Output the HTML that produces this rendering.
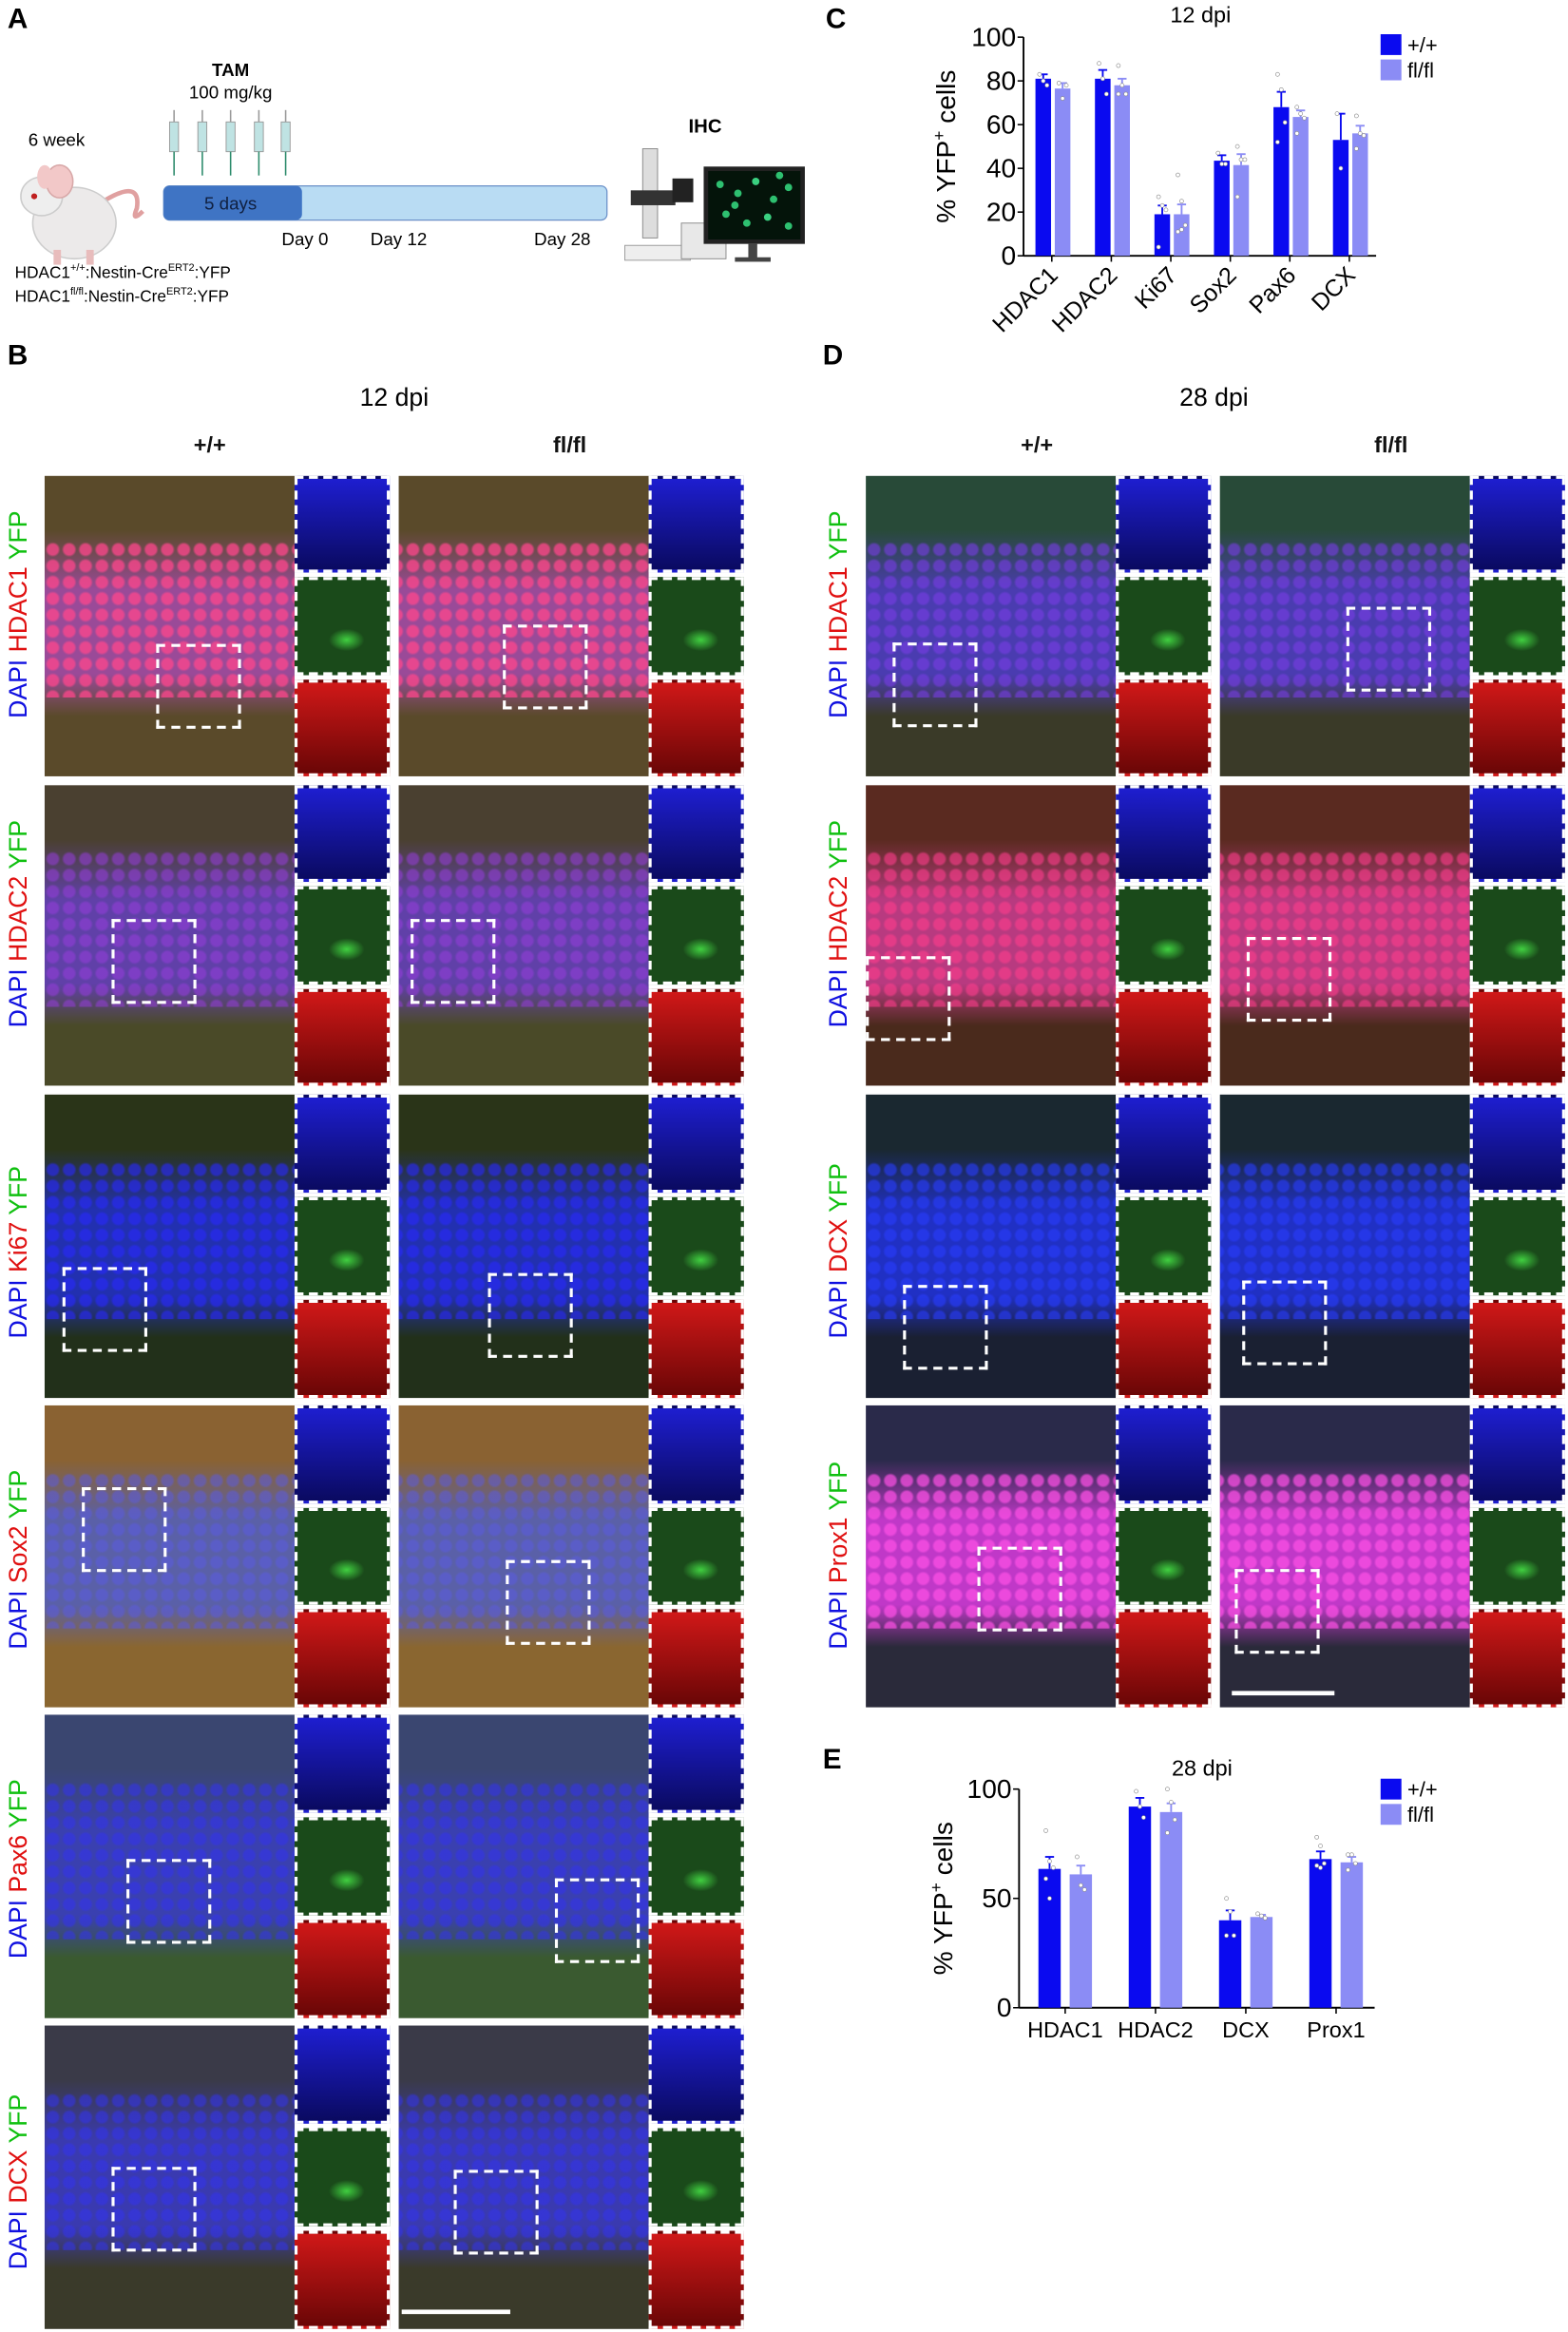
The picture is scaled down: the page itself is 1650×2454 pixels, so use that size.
<!DOCTYPE html>
<html><head><meta charset="utf-8">
<style>
html,body{margin:0;padding:0;background:#fff;}
body{width:1650px;height:2454px;overflow:hidden;position:relative;font-family:"Liberation Sans",sans-serif;}
#root{position:absolute;left:0;top:0;width:1054px;height:1568px;transform:scale(1.5655,1.565);transform-origin:0 0;}
.abs{position:absolute;}
.plabel{position:absolute;font-weight:bold;font-size:19px;color:#000;}
.hdr{position:absolute;font-size:17px;color:#000;transform:translateX(-50%);white-space:nowrap;}
.col{position:absolute;font-size:15px;font-weight:bold;color:#111;transform:translateX(-50%);}
.main{position:absolute;overflow:hidden;}
.tex{position:absolute;left:0;right:0;}
.ins{position:absolute;box-sizing:border-box;border:2px dashed #fff;}
.box{position:absolute;box-sizing:border-box;border:2px dashed #fff;}
.rowlab{position:absolute;font-size:17px;white-space:nowrap;transform:rotate(-90deg);transform-origin:0 0;}
</style></head>
<body>
<div id="root">

<div class="plabel" style="left:5px;top:3px">A</div>
<div class="plabel" style="left:5px;top:229px">B</div>
<div class="plabel" style="left:555px;top:3px">C</div>
<div class="plabel" style="left:553px;top:229px">D</div>
<div class="plabel" style="left:553px;top:1173px">E</div>

<!-- Panel A schematic -->
<svg class="abs" style="left:0;top:0" width="550" height="220">
  <text x="38" y="98" font-size="12" text-anchor="middle" font-family="Liberation Sans">6 week</text>
  <g>
    <path d="M70 135 Q95 120 92 140 Q88 150 96 142" stroke="#e0a0a0" stroke-width="3" fill="none"/>
    <ellipse cx="50" cy="150" rx="28" ry="24" fill="#eceaea" stroke="#ccc"/>
    <ellipse cx="28" cy="132" rx="14" ry="13" fill="#eeeeee" stroke="#ccc"/>
    <ellipse cx="40" cy="122" rx="9" ry="11" fill="#f2c8c8" stroke="#d8a8a8"/>
    <ellipse cx="30" cy="119" rx="5" ry="8" fill="#f2c8c8"/>
    <circle cx="23" cy="132" r="2" fill="#c02020"/>
    <rect x="36" y="168" width="5" height="10" fill="#e8bcbc"/>
    <rect x="58" y="168" width="5" height="10" fill="#e8bcbc"/>
  </g>
  <text x="155" y="51" font-size="12" font-weight="bold" text-anchor="middle" font-family="Liberation Sans">TAM</text>
  <text x="155" y="66" font-size="12" text-anchor="middle" font-family="Liberation Sans">100 mg/kg</text>
  <g>
    <g transform="translate(117,0)"><rect x="-3" y="82" width="6" height="20" fill="#bfe3e3" stroke="#999" stroke-width=".6"/><line x1="0" y1="74" x2="0" y2="82" stroke="#999"/><line x1="0" y1="102" x2="0" y2="118" stroke="#2a8a6a"/></g>
    <g transform="translate(136,0)"><rect x="-3" y="82" width="6" height="20" fill="#bfe3e3" stroke="#999" stroke-width=".6"/><line x1="0" y1="74" x2="0" y2="82" stroke="#999"/><line x1="0" y1="102" x2="0" y2="118" stroke="#2a8a6a"/></g>
    <g transform="translate(155,0)"><rect x="-3" y="82" width="6" height="20" fill="#bfe3e3" stroke="#999" stroke-width=".6"/><line x1="0" y1="74" x2="0" y2="82" stroke="#999"/><line x1="0" y1="102" x2="0" y2="118" stroke="#2a8a6a"/></g>
    <g transform="translate(174,0)"><rect x="-3" y="82" width="6" height="20" fill="#bfe3e3" stroke="#999" stroke-width=".6"/><line x1="0" y1="74" x2="0" y2="82" stroke="#999"/><line x1="0" y1="102" x2="0" y2="118" stroke="#2a8a6a"/></g>
    <g transform="translate(192,0)"><rect x="-3" y="82" width="6" height="20" fill="#bfe3e3" stroke="#999" stroke-width=".6"/><line x1="0" y1="74" x2="0" y2="82" stroke="#999"/><line x1="0" y1="102" x2="0" y2="118" stroke="#2a8a6a"/></g>
  </g>
  <rect x="110" y="125" width="298" height="23" rx="4" fill="#b9dcf3" stroke="#6a90c8" stroke-width="0.8"/>
  <rect x="110" y="125" width="93" height="23" rx="4" fill="#3f74c4"/>
  <text x="155" y="141" font-size="12" text-anchor="middle" fill="#102040" font-family="Liberation Sans">5 days</text>
  <text x="205" y="165" font-size="12" text-anchor="middle" font-family="Liberation Sans">Day 0</text>
  <text x="268" y="165" font-size="12" text-anchor="middle" font-family="Liberation Sans">Day 12</text>
  <text x="378" y="165" font-size="12" text-anchor="middle" font-family="Liberation Sans">Day 28</text>
  <text x="10" y="187" font-size="11" font-family="Liberation Sans">HDAC1<tspan font-size="7" dy="-5">+/+</tspan><tspan dy="5">:Nestin-Cre</tspan><tspan font-size="7" dy="-5">ERT2</tspan><tspan dy="5">:YFP</tspan></text>
  <text x="10" y="203" font-size="11" font-family="Liberation Sans">HDAC1<tspan font-size="7" dy="-5">fl/fl</tspan><tspan dy="5">:Nestin-Cre</tspan><tspan font-size="7" dy="-5">ERT2</tspan><tspan dy="5">:YFP</tspan></text>
  <text x="474" y="89" font-size="13" font-weight="bold" text-anchor="middle" font-family="Liberation Sans">IHC</text>
  <g>
    <rect x="432" y="100" width="10" height="60" fill="#ddd" stroke="#888" stroke-width=".6"/>
    <rect x="424" y="128" width="30" height="10" fill="#333"/>
    <rect x="420" y="165" width="44" height="10" fill="#eee" stroke="#999" stroke-width=".6"/>
    <rect x="452" y="120" width="14" height="16" fill="#222"/>
    <rect x="458" y="150" width="30" height="24" fill="#e8e8e8" stroke="#888" stroke-width=".6"/>
  </g>
  <g>
    <rect x="473" y="112" width="68" height="52" fill="#222"/>
    <rect x="476" y="115" width="62" height="46" fill="#04140a"/>
    <circle cx="484" cy="124" r="2.5" fill="#2ec070"/><circle cx="496" cy="130" r="2.5" fill="#2ec070"/><circle cx="508" cy="122" r="2.5" fill="#3ad080"/><circle cx="520" cy="134" r="2.5" fill="#2ec070"/><circle cx="530" cy="126" r="2.5" fill="#2ec070"/><circle cx="488" cy="144" r="2.5" fill="#2ec070"/><circle cx="502" cy="150" r="2.5" fill="#2ec070"/><circle cx="516" cy="146" r="2.5" fill="#3ad080"/><circle cx="530" cy="152" r="2.5" fill="#2ec070"/><circle cx="494" cy="138" r="2.5" fill="#2ec070"/><circle cx="524" cy="118" r="2.5" fill="#2ec070"/>
    <rect x="503" y="164" width="6" height="10" fill="#444"/><rect x="494" y="173" width="24" height="3" fill="#444"/>
  </g>
</svg>

<svg class="abs" id="chartC" style="left:600px;top:0" width="454" height="230"></svg>
<svg class="abs" id="chartE" style="left:600px;top:1170px" width="454" height="210"></svg>

<div class="hdr" style="left:265px;top:258px">12 dpi</div>
<div class="col" style="left:141px;top:291px">+/+</div>
<div class="col" style="left:383px;top:291px">fl/fl</div>
<div class="hdr" style="left:816px;top:258px">28 dpi</div>
<div class="col" style="left:697px;top:291px">+/+</div>
<div class="col" style="left:935px;top:291px">fl/fl</div>

<div id="micro"></div>

<div class="abs" style="left:270px;top:1553px;width:73px;height:3px;background:#fff"></div>
</div>

<script>
const NS='http://www.w3.org/2000/svg';
function mk(p,tag,attrs){const e=document.createElementNS(NS,tag);for(const k in attrs)e.setAttribute(k,attrs[k]);p.appendChild(e);return e;}

// ---- Chart C data ----
const catsC=['HDAC1','HDAC2','Ki67','Sox2','Pax6','DCX'];
const wtC=[81,81,19,43.5,68,53];
const koC=[76.5,78,19,41.5,63.5,56];
const wtErrC=[2,4,4,2.5,7,12];
const koErrC=[2.5,3,4.5,5,3,3.5];
const wtPtsC=[[83,80,78],[88,81,74],[27,23,21,4],[47,42,42],[83,76,61,52],[65,40]];
const koPtsC=[[79,72,78],[87,78,74,74],[37,25,14,11,12],[50,44,44,27],[68,65,63,56],[64,56,55,49]];
const ticksC=[0,20,40,60,80,100];
// ---- Chart E data ----
const catsE=['HDAC1','HDAC2','DCX','Prox1'];
const wtE=[63.5,92,40,68];
const koE=[61,89.5,41.5,66.5];
const wtErrE=[5.5,4,4.5,3.5];
const koErrE=[4,4,1,2.5];
const wtPtsE=[[81,67,64,59,50],[99,92,87],[50,44,33,33],[78,74,66,65,64]];
const koPtsE=[[69,56,54],[100,94,86,80],[43,42,41],[70,70,66,63]];
const ticksE=[0,50,100];

const WT='#0a0af0', KO='#8b8cf5';

function drawChart(svg,o){
  const y=v=>o.y0-(v/100)*(o.y0-o.y100);
  const x=i=>o.c0+i*o.step;
  let e=mk(svg,'line',{x1:o.ax,y1:o.y100,x2:o.ax,y2:o.y0,stroke:'#000','stroke-width':1.2});
  
  
  e=mk(svg,'line',{x1:o.ax,y1:o.y0,x2:o.xend,y2:o.y0,stroke:'#000','stroke-width':1.2});
  
  
  o.ticks.forEach(t=>{
    mk(svg,'line',{x1:o.ax-4,y1:y(t),x2:o.ax,y2:y(t),stroke:'#000'});
    const tx=mk(svg,'text',{x:o.ax-5,y:y(t)+6,'font-size':18,'text-anchor':'end','font-family':'Liberation Sans'});
    tx.textContent=t;
    
    
  });
  o.cats.forEach((c,i)=>{
    const cx=x(i);
    [[o.wt,o.wtErr,o.wtPts,WT,o.wOff,'bar-wt'],[o.ko,o.koErr,o.koPts,KO,o.kOff,'bar-ko']].forEach(([vals,errs,pts,col,off,nm])=>{
      const bx=cx+off;
      const r=mk(svg,'rect',{x:bx,y:y(vals[i]),width:o.bw,height:o.y0-y(vals[i]),fill:col});
      
      
      const mx=bx+o.bw/2;
      mk(svg,'line',{x1:mx,y1:y(vals[i]),x2:mx,y2:y(vals[i]+errs[i]),stroke:col,'stroke-width':1.2});
      mk(svg,'line',{x1:mx-3,y1:y(vals[i]+errs[i]),x2:mx+3,y2:y(vals[i]+errs[i]),stroke:col,'stroke-width':1.2});
      pts[i].forEach((p,k)=>{
        const d=mk(svg,'circle',{cx:mx+((k%3)-1)*2.5,cy:y(p),r:1.3,fill:'#fff',stroke:'#888','stroke-width':0.4});
        
        
      });
    });
    mk(svg,'line',{x1:cx,y1:o.y0,x2:cx,y2:o.y0+4,stroke:'#000'});
    let lt;
    if(o.rot){
      lt=mk(svg,'text',{x:cx+5,y:o.y0+14,'font-size':16,'text-anchor':'end','font-family':'Liberation Sans',transform:`rotate(-45 ${cx+5} ${o.y0+14})`});
    } else {
      lt=mk(svg,'text',{x:cx,y:o.y0+20,'font-size':15,'text-anchor':'middle','font-family':'Liberation Sans'});
    }
    lt.textContent=c;
    
    
  });
  const yt=mk(svg,'text',{x:0,y:0,'font-size':18,'text-anchor':'middle','font-family':'Liberation Sans',transform:`translate(${o.ytx} ${(o.y0+o.y100)/2}) rotate(-90)`});
  yt.innerHTML='% YFP<tspan font-size="11" dy="-7">+</tspan><tspan dy="7"> cells</tspan>';
  
  
  const tt=mk(svg,'text',{x:o.tx,y:o.ty,'font-size':15,'text-anchor':'middle','font-family':'Liberation Sans'});
  tt.textContent=o.title;
  
  
  [[WT,'+/+',o.ly],[KO,'fl/fl',o.ly+17]].forEach(([col,lab,ly])=>{
    const r=mk(svg,'rect',{x:o.lx,y:ly,width:14,height:14,fill:col});
    
    
    const t=mk(svg,'text',{x:o.lx+18,y:ly+12,'font-size':14,'font-family':'Liberation Sans'});
    t.textContent=lab;
    
    
  });
}
drawChart(document.getElementById('chartC'),{cats:catsC,wt:wtC,ko:koC,wtErr:wtErrC,koErr:koErrC,wtPts:wtPtsC,koPts:koPtsC,ticks:ticksC,
  ax:88,xend:325,y0:172,y100:25,c0:107,step:40,bw:10.5,wOff:-11,kOff:2,rot:true,ytx:42,title:'12 dpi',tx:207,ty:15,lx:328,ly:23});
drawChart(document.getElementById('chartE'),{cats:catsE,wt:wtE,ko:koE,wtErr:wtErrE,koErr:koErrE,wtPts:wtPtsE,koPts:koPtsE,ticks:ticksE,
  ax:85,xend:324,y0:180,y100:33,c0:116,step:60.7,bw:15,wOff:-18,kOff:3,rot:false,ytx:40,title:'28 dpi',tx:208,ty:24,lx:328,ly:26});

// ---- Micrographs (decorative images) ----
const micro=document.getElementById('micro');
const bRows=[
 {y:320,h:202,lab:'HDAC1',top:'#5a4a2a',mid:'#9a4a98',bot:'#5a4a2a',cell:'rgba(255,70,140,.75)',box:[[75,113],[70,100]]},
 {y:528,h:202,lab:'HDAC2',top:'#4a4030',mid:'#6040a8',bot:'#4a4a28',cell:'rgba(150,60,220,.55)',box:[[45,90],[8,90]]},
 {y:736,h:204,lab:'Ki67',top:'#2a3418',mid:'#2230b0',bot:'#22301a',cell:'rgba(40,40,255,.6)',box:[[12,116],[60,120]]},
 {y:945,h:203,lab:'Sox2',top:'#8a6232',mid:'#5a60a8',bot:'#8a6630',cell:'rgba(90,90,230,.5)',box:[[25,55],[72,104]]},
 {y:1153,h:204,lab:'Pax6',top:'#3a4670',mid:'#3a40b0',bot:'#3a5a30',cell:'rgba(50,50,240,.55)',box:[[55,97],[105,110]]},
 {y:1362,h:204,lab:'DCX',top:'#3a3a48',mid:'#3a3ab0',bot:'#3a3a2a',cell:'rgba(50,50,240,.55)',box:[[45,95],[37,97]]}
];
const dRows=[
 {y:320,h:202,lab:'HDAC1',top:'#284a38',mid:'#4a3cb0',bot:'#3a3a28',cell:'rgba(120,60,230,.6)',box:[[18,112],[85,88]]},
 {y:528,h:202,lab:'HDAC2',top:'#5a2a20',mid:'#b83a80',bot:'#4a2a1c',cell:'rgba(255,60,140,.6)',box:[[0,115],[18,102]]},
 {y:736,h:204,lab:'DCX',top:'#1a2830',mid:'#2030c4',bot:'#1a2032',cell:'rgba(40,60,255,.6)',box:[[25,128],[15,125]]},
 {y:945,h:203,lab:'Prox1',top:'#2a2a4a',mid:'#c038c8',bot:'#2a2a3a',cell:'rgba(255,80,230,.7)',box:[[75,95],[10,110]]}
];
function panel(rows,cols,labX,pfx){
  rows.forEach((r,ri)=>{
    const lab=document.createElement('div');
    lab.className='rowlab';
    lab.style.left=labX+'px';
    lab.style.top=(r.y+r.h/2+62)+'px';
    lab.innerHTML='<span style="color:#1010e0">DAPI</span> <span style="color:#e01010">'+r.lab+'</span> <span style="color:#10c010">YFP</span>';
    
    
    micro.appendChild(lab);
    cols.forEach((c,ci)=>{
      const m=document.createElement('div');
      m.className='main';
      m.style.cssText=`left:${c.x}px;top:${r.y}px;width:${c.w}px;height:${r.h}px;background:linear-gradient(180deg,${r.top} 0%,${r.top} 18%,${r.mid} 38%,${r.mid} 66%,${r.bot} 80%,${r.bot} 100%);`;
      
      
      const t=document.createElement('div');
      t.className='tex';
      t.style.cssText=`top:${r.h*0.22}px;height:${r.h*0.52}px;background-image:radial-gradient(circle at 50% 50%,${r.cell} 0,${r.cell} 3.5px,transparent 5px);background-size:11px 11px;background-position:${ci*4}px 0;`;
      
      
      m.appendChild(t);
      micro.appendChild(m);
      const b=document.createElement('div');
      b.className='box';
      const [bx,by]=r.box[ci];
      b.style.cssText=`left:${c.x+bx}px;top:${r.y+by}px;width:57px;height:57px;`;
      
      
      micro.appendChild(b);
      const ih=(r.h-6)/3;
      [0,1,2].forEach(k=>{
        const s=document.createElement('div');
        s.className='ins';
        const g=k==0?'linear-gradient(180deg,#1e1ed0,#0a0a60)':k==1?'radial-gradient(ellipse 20% 12% at 55% 65%,#40d040 0%,#1a4a1a 100%),#1a4a1a':'linear-gradient(180deg,#d01818,#6a0606)';
        s.style.cssText=`left:${c.ix}px;top:${r.y+k*(ih+3)}px;width:${c.iw}px;height:${ih}px;background:${g};`;
        
        
        micro.appendChild(s);
      });
    });
  });
}
panel(bRows,[{x:30,w:168,ix:198,iw:64,g:'wt'},{x:268,w:168,ix:436,iw:64,g:'ko'}],3,'b');
panel(dRows,[{x:582,w:168,ix:750,iw:64,g:'wt'},{x:820,w:168,ix:988,iw:64,g:'ko'}],554,'d');
const sb=document.createElement('div');
sb.className='abs';
sb.style.cssText='left:828px;top:1137px;width:69px;height:3px;background:#fff;';


micro.appendChild(sb);
</script>
</body></html>
